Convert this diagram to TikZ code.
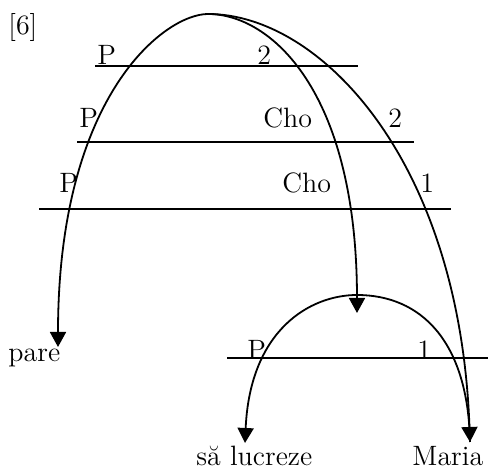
\documentclass[tikz,border=0pt]{standalone}
\usepackage{fontspec}
\usetikzlibrary{arrows.meta}

\begin{document}
\begin{tikzpicture}[x=0.5pt, y=-0.5pt,
  word/.style={anchor=base west, inner sep=0pt, font=\fontsize{14}{16}\selectfont},
  rule/.style={line width=1pt},
  arc/.style={line width=0.9pt},
  hop/.style={arc, -{Triangle[length=7.5pt, width=8pt]}}]
\useasboundingbox (0,0) rectangle (488,469);
% tiers
\draw[rule] (95,66.5) -- (358,66.5);
\draw[rule] (77,142.5) -- (414,142.5);
\draw[rule] (39,209.5) -- (451,209.5);
\draw[rule] (227,358) -- (488,358);
% labels on the tiers
\node[word] (ex) at (8,35) {[6]};
\node[word] (pa) at (97,65) {P};
\node[word] (na) at (257,65) {2};
\node[word] (pb) at (79,128) {P};
\node[word] (cb) at (263,128) {Cho};
\node[word] (nb) at (388,128) {2};
\node[word] (pc) at (59,193) {P};
\node[word] (cc) at (282,193) {Cho};
\node[word] (nc) at (420,193) {1};
\node[word] (pd) at (247,360) {P};
\node[word] (nd) at (417,360) {1};
% words
\node[word] (pare) at (8,362) {pare};
\node[word] (lucr) at (196,466) {să lucreze};
\node[word] (maria) at (412,466) {Maria};
% ends of the arcs
\coordinate (top) at (208,14);
\coordinate (low) at (357,295);
\coordinate (pareend) at (58,347);
\coordinate (lowend) at (357,313);
\coordinate (lucrend) at (245,443);
\coordinate (mariaend) at (470,442);
\draw[hop] (top) .. controls (165,14) and (58,95) .. (pareend);
\draw[hop] (top) .. controls (270,14) and (357,90) .. (lowend);
\draw[hop] (top) .. controls (320,14) and (460,160) .. (mariaend);
\draw[hop] (low) .. controls (310,295) and (250,330) .. (lucrend);
\draw[arc] (low) .. controls (420,295) and (468,340) .. (mariaend);
\end{tikzpicture}
\end{document}
